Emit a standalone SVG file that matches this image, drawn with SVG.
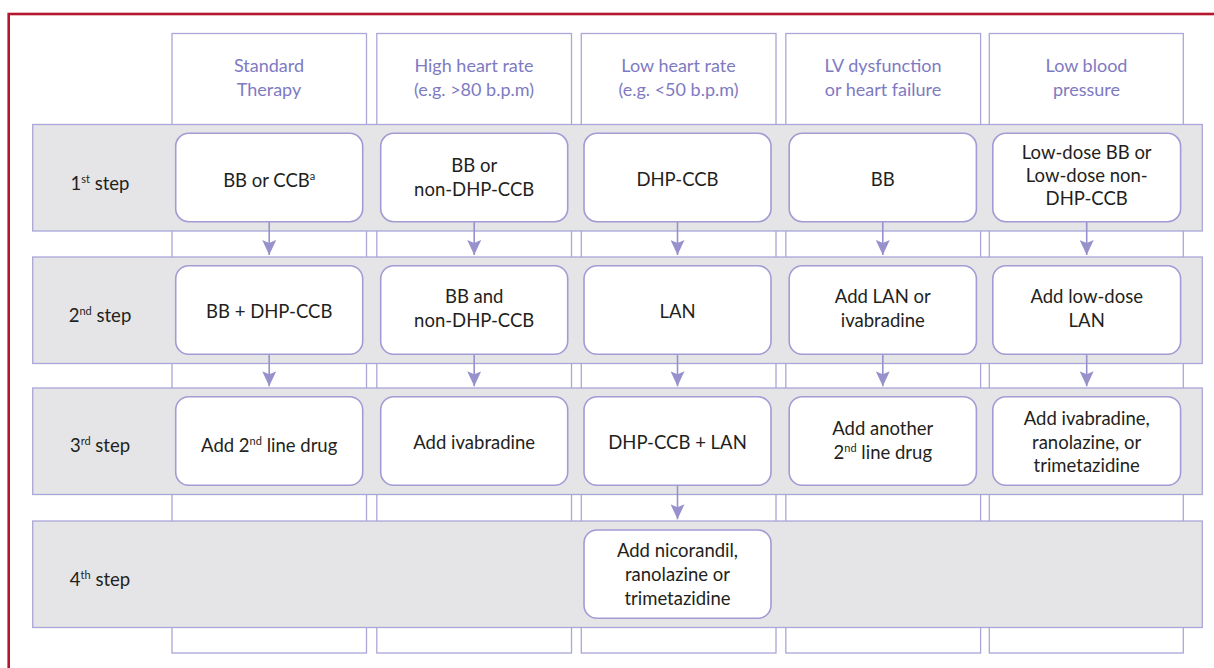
<svg xmlns="http://www.w3.org/2000/svg" width="1214" height="668" viewBox="0 0 1214 668">
<defs>
<style>
.frame{fill:none;stroke:#b5162d;stroke-width:2.6}
.col{fill:#ffffff;stroke:#aaa6d8;stroke-width:1.3}
.band{fill:#e5e5e7;stroke:#aaa6d8;stroke-width:1.3}
.box{fill:#ffffff;stroke:#a19cd4;stroke-width:1.6}
.hdr{font-family:Lato,"Liberation Sans",sans-serif;font-size:18px;fill:#7e7ac2;text-anchor:middle}
.txt{font-family:Lato,"Liberation Sans",sans-serif;font-size:18.5px;fill:#231f20;text-anchor:middle}
.sup{font-size:11px}
.conn line{stroke:#9791cc;stroke-width:1.6}
</style>
<marker id="ah" markerWidth="16" markerHeight="14" viewBox="0 0 16 14" refX="15" refY="7" orient="auto" markerUnits="userSpaceOnUse">
<path d="M0,0 L3,7 L0,14 L15,7 Z" fill="#9791cc"/>
</marker>
</defs>
<rect class="frame" x="8.7" y="14" width="1240" height="700"/>
<g id="columns">
<rect class="col" x="172" y="33.5" width="194.5" height="619.5"/>
<rect class="col" x="376.8" y="33.5" width="194.7" height="619.5"/>
<rect class="col" x="581.3" y="33.5" width="194.7" height="619.5"/>
<rect class="col" x="785.8" y="33.5" width="194.8" height="619.5"/>
<rect class="col" x="989.3" y="33.5" width="194" height="619.5"/>
</g>
<g id="headers">
<text id="h1" class="hdr" x="269" y="71.7">Standard<tspan x="269" y="95.7">Therapy</tspan></text>
<text id="h2" class="hdr" x="474" y="71.7">High heart rate<tspan x="474" y="95.7">(e.g. &gt;80 b.p.m)</tspan></text>
<text id="h3" class="hdr" x="678.5" y="71.7">Low heart rate<tspan x="678.5" y="95.7">(e.g. &lt;50 b.p.m)</tspan></text>
<text id="h4" class="hdr" x="883" y="71.7">LV dysfunction<tspan x="883" y="95.7">or heart failure</tspan></text>
<text id="h5" class="hdr" x="1086.5" y="71.7">Low blood<tspan x="1086.5" y="95.7">pressure</tspan></text>
</g>
<g id="bands">
<rect class="band" x="32.7" y="124.5" width="1169.6" height="106.5"/>
<rect class="band" x="32.7" y="257" width="1169.6" height="106.5"/>
<rect class="band" x="32.7" y="388" width="1169.6" height="106.5"/>
<rect class="band" x="32.7" y="521" width="1169.6" height="106.5"/>
</g>
<g id="step-labels">
<text id="s1" class="txt" x="100" y="190">1<tspan class="sup" dy="-7">st</tspan><tspan dy="7"> step</tspan></text>
<text id="s2" class="txt" x="100" y="321.5">2<tspan class="sup" dy="-7">nd</tspan><tspan dy="7"> step</tspan></text>
<text id="s3" class="txt" x="100" y="452.3">3<tspan class="sup" dy="-7">rd</tspan><tspan dy="7"> step</tspan></text>
<text id="s4" class="txt" x="100" y="586">4<tspan class="sup" dy="-7">th</tspan><tspan dy="7"> step</tspan></text>
</g>
<g id="connectors" class="conn">
<line x1="269.2" y1="221.7" x2="269.2" y2="255" marker-end="url(#ah)"/>
<line x1="474.2" y1="221.7" x2="474.2" y2="255" marker-end="url(#ah)"/>
<line x1="677.5" y1="221.7" x2="677.5" y2="255" marker-end="url(#ah)"/>
<line x1="882.8" y1="221.7" x2="882.8" y2="255" marker-end="url(#ah)"/>
<line x1="1086.7" y1="221.7" x2="1086.7" y2="255" marker-end="url(#ah)"/>
<line x1="269.2" y1="354.3" x2="269.2" y2="386.3" marker-end="url(#ah)"/>
<line x1="474.2" y1="354.3" x2="474.2" y2="386.3" marker-end="url(#ah)"/>
<line x1="677.5" y1="354.3" x2="677.5" y2="386.3" marker-end="url(#ah)"/>
<line x1="882.8" y1="354.3" x2="882.8" y2="386.3" marker-end="url(#ah)"/>
<line x1="1086.7" y1="354.3" x2="1086.7" y2="386.3" marker-end="url(#ah)"/>
<line x1="677.5" y1="485.3" x2="677.5" y2="519.3" marker-end="url(#ah)"/>
</g>
<g id="n1a"><rect class="box" x="175.7" y="133.3" width="187" height="88.4" rx="13"/><text class="txt" x="269.2" y="186.5">BB or CCB<tspan class="sup" dy="-7">a</tspan></text></g>
<g id="n1b"><rect class="box" x="380.7" y="133.3" width="187" height="88.4" rx="13"/><text class="txt" x="474.2" y="171.7">BB or<tspan x="474.2" y="195.7">non-DHP-CCB</tspan></text></g>
<g id="n1c"><rect class="box" x="584" y="133.3" width="187" height="88.4" rx="13"/><text class="txt" x="677.5" y="185.7">DHP-CCB</text></g>
<g id="n1d"><rect class="box" x="789.2" y="133.3" width="187.2" height="88.4" rx="13"/><text class="txt" x="882.8" y="185.7">BB</text></g>
<g id="n1e"><rect class="box" x="992.8" y="133.3" width="187.8" height="88.4" rx="13"/><text class="txt" x="1086.7" y="158.6">Low-dose BB or<tspan x="1086.7" y="181.8">Low-dose non-</tspan><tspan x="1086.7" y="205">DHP-CCB</tspan></text></g>
<g id="n2a"><rect class="box" x="175.7" y="265.7" width="187" height="88.6" rx="13"/><text class="txt" x="269.2" y="318.3">BB + DHP-CCB</text></g>
<g id="n2b"><rect class="box" x="380.7" y="265.7" width="187" height="88.6" rx="13"/><text class="txt" x="474.2" y="303.3">BB and<tspan x="474.2" y="327.3">non-DHP-CCB</tspan></text></g>
<g id="n2c"><rect class="box" x="584" y="265.7" width="187" height="88.6" rx="13"/><text class="txt" x="677.5" y="318.3">LAN</text></g>
<g id="n2d"><rect class="box" x="789.2" y="265.7" width="187.2" height="88.6" rx="13"/><text class="txt" x="882.8" y="303.3">Add LAN or<tspan x="882.8" y="327.3">ivabradine</tspan></text></g>
<g id="n2e"><rect class="box" x="992.8" y="265.7" width="187.8" height="88.6" rx="13"/><text class="txt" x="1086.7" y="303.3">Add low-dose<tspan x="1086.7" y="327.3">LAN</tspan></text></g>
<g id="n3a"><rect class="box" x="175.7" y="396.7" width="187" height="88.6" rx="13"/><text class="txt" x="269.2" y="452">Add 2<tspan class="sup" dy="-7">nd</tspan><tspan dy="7"> line drug</tspan></text></g>
<g id="n3b"><rect class="box" x="380.7" y="396.7" width="187" height="88.6" rx="13"/><text class="txt" x="474.2" y="449">Add ivabradine</text></g>
<g id="n3c"><rect class="box" x="584" y="396.7" width="187" height="88.6" rx="13"/><text class="txt" x="677.5" y="449">DHP-CCB + LAN</text></g>
<g id="n3d"><rect class="box" x="789.2" y="396.7" width="187.2" height="88.6" rx="13"/><text class="txt" x="882.8" y="435">Add another<tspan x="882.8" y="459">2</tspan><tspan class="sup" dy="-7">nd</tspan><tspan dy="7"> line drug</tspan></text></g>
<g id="n3e"><rect class="box" x="992.8" y="396.7" width="187.8" height="88.6" rx="13"/><text class="txt" x="1086.7" y="425">Add ivabradine,<tspan x="1086.7" y="448.7">ranolazine, or</tspan><tspan x="1086.7" y="472.3">trimetazidine</tspan></text></g>
<g id="n4c"><rect class="box" x="584" y="530" width="187" height="88.3" rx="13"/><text class="txt" x="677.5" y="557.3">Add nicorandil,<tspan x="677.5" y="581.3">ranolazine or</tspan><tspan x="677.5" y="605">trimetazidine</tspan></text></g>
</svg>
